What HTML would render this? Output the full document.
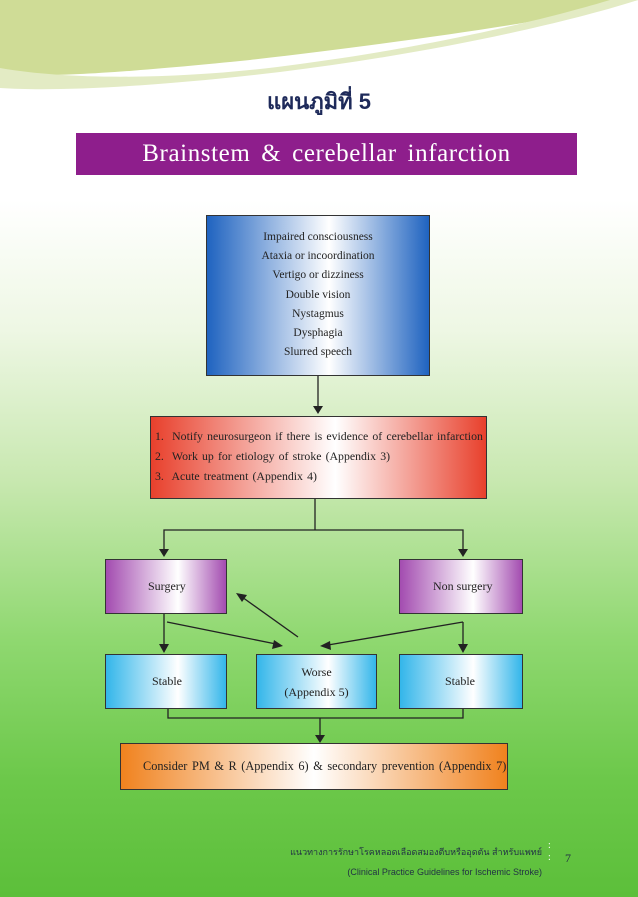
<!DOCTYPE html>
<html><head><meta charset="utf-8"><style>
body{margin:0;width:638px;height:897px;overflow:hidden;position:relative;font-family:"Liberation Serif",serif;
background:linear-gradient(to bottom,#fff 0,#fff 200px,#eef7e4 330px,#c8e8b0 480px,#8fd870 640px,#6cc84a 780px,#5cbf3a 897px);}
.b{position:absolute;box-sizing:border-box;border:1px solid #333;font-size:11.5px;color:#222;}
svg{position:absolute;left:0;top:0}
</style></head><body>
<svg width="638" height="897">
<path d="M0 0 H638 V0 C560 20 420 40 250 60 C130 72 50 78 0 74 Z" fill="#cfdc96"/>
<path d="M0 68 C80 82 200 78 300 64 C450 44 560 15 610 0 H638 C560 25 420 55 280 72 C160 86 60 92 0 88 Z" fill="#e3ebc4"/>
<g stroke="#222" stroke-width="1.3" fill="none">
<line x1="318" y1="375" x2="318" y2="408"/>
<polyline points="315,498 315,530"/><polyline points="164,550 164,530 463,530 463,550"/>
<line x1="164" y1="613" x2="164" y2="645"/><line x1="463" y1="622" x2="463" y2="645"/>
<line x1="167" y1="622" x2="276" y2="644"/><line x1="463" y1="622" x2="328" y2="645"/>
<line x1="298" y1="637" x2="242" y2="597"/>
<polyline points="168,708 168,718 463,718 463,708"/><line x1="320" y1="718" x2="320" y2="736"/>
</g>
<g fill="#222">
<polygon points="313,406 323,406 318,414"/>
<polygon points="159,549 169,549 164,557"/><polygon points="458,549 468,549 463,557"/>
<polygon points="159,644 169,644 164,653"/><polygon points="458,644 468,644 463,653"/>
<polygon points="283,646 274,640 272,649"/><polygon points="320,646 330,641 331,650"/>
<polygon points="236,593 247,595 242,602"/>
<polygon points="315,735 325,735 320,743"/>
</g>
</svg>
<div style="position:absolute;left:0;width:638px;top:84px;text-align:center;font:bold 22px 'Liberation Sans','Noto Sans CJK SC',sans-serif;color:#1e2a5a">แผนภูมิที่ 5</div>
<div style="position:absolute;left:76px;top:133px;width:501px;height:42px;background:#8e1e8c;color:#fff;font-size:25px;text-align:center;line-height:42px;letter-spacing:0.6px;word-spacing:4px">Brainstem &amp; cerebellar infarction</div>
<div class="b" style="left:206px;top:215px;width:224px;height:161px;background:linear-gradient(to right,#1f63c0,#fff 55%,#1f63c0);text-align:center;line-height:19.2px;padding-top:12px">Impaired consciousness<br>Ataxia or incoordination<br>Vertigo or dizziness<br>Double vision<br>Nystagmus<br>Dysphagia<br>Slurred speech</div>
<div class="b" style="left:150px;top:416px;width:337px;height:83px;background:linear-gradient(to right,#e8402c,#fff 55%,#e8402c);line-height:20px;padding:9px 0 0 4px;font-size:11.8px;word-spacing:1.2px;white-space:nowrap">1.&nbsp; Notify neurosurgeon if there is evidence of cerebellar infarction<br>2.&nbsp; Work up for etiology of stroke (Appendix 3)<br>3.&nbsp; Acute treatment (Appendix 4)</div>
<div class="b" style="left:105px;top:559px;width:122px;height:55px;background:linear-gradient(to right,#a34cb0,#fff 60%,#a34cb0);line-height:53px;padding-left:42px;font-size:12px">Surgery</div>
<div class="b" style="left:399px;top:559px;width:124px;height:55px;background:linear-gradient(to right,#a34cb0,#fff 60%,#a34cb0);line-height:53px;padding-left:33px;font-size:12px">Non surgery</div>
<div class="b" style="left:105px;top:654px;width:122px;height:55px;background:linear-gradient(to right,#33b6ea,#fff 60%,#33b6ea);line-height:53px;padding-left:46px;font-size:12px">Stable</div>
<div class="b" style="left:256px;top:654px;width:121px;height:55px;background:linear-gradient(to right,#33b6ea,#fff 60%,#33b6ea);text-align:center;line-height:20px;padding-top:7px;font-size:12px">Worse<br>(Appendix 5)</div>
<div class="b" style="left:399px;top:654px;width:124px;height:55px;background:linear-gradient(to right,#33b6ea,#fff 60%,#33b6ea);line-height:53px;padding-left:45px;font-size:12px">Stable</div>
<div class="b" style="left:120px;top:743px;width:388px;height:47px;background:linear-gradient(to right,#f0821e,#fff 50%,#f0821e);line-height:45px;padding-left:22px;font-size:12.3px;word-spacing:1.5px;white-space:nowrap">Consider PM &amp; R (Appendix 6) &amp; secondary prevention (Appendix 7)</div>
<div style="position:absolute;right:96px;top:842px;text-align:right;font:9px 'Liberation Sans','Noto Sans CJK SC',sans-serif;color:#234;line-height:20px">แนวทางการรักษาโรคหลอดเลือดสมองตีบหรืออุดตัน สำหรับแพทย์<br>(Clinical Practice Guidelines for Ischemic Stroke)</div>
<div style="position:absolute;left:548px;top:840px;color:#fff;font-size:10px;line-height:12px">:<br>:</div>
<div style="position:absolute;left:565px;top:851px;font-size:12px;color:#234">7</div>
</body></html>
